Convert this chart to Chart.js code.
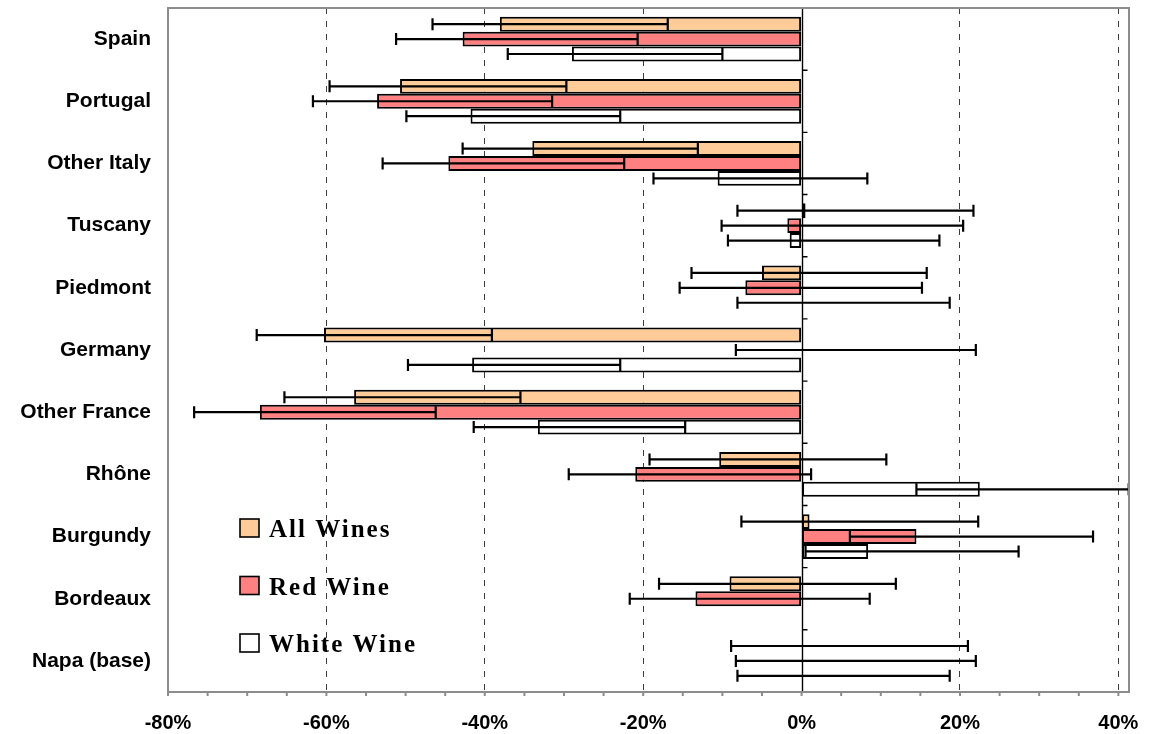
<!DOCTYPE html>
<html>
<head>
<meta charset="utf-8">
<title>Wine price differences vs Napa</title>
<script src="https://cdn.jsdelivr.net/npm/chart.js@4.4.1/dist/chart.umd.min.js"></script>
<style>
  html, body { margin: 0; padding: 0; background: #ffffff; }
  #wrap { width: 1149px; height: 734px; }
</style>
</head>
<body>
<div id="wrap"><canvas id="chart" width="1149" height="734"></canvas></div>
<script>
// Regions, top to bottom
const regions = ['Spain', 'Portugal', 'Other Italy', 'Tuscany', 'Piedmont', 'Germany',
  'Other France', 'Rhône', 'Burgundy', 'Bordeaux', 'Napa (base)'];

// Percentage difference from Napa, with confidence interval bounds
const allWines = [-38.1, -50.7, -34.0, 0.5, -5.0, -60.3, -56.5, -10.4, 1.0, -9.1, 0];
const allLow   = [-46.6, -59.6, -42.8, -8.1, -13.9, -68.8, -65.3, -19.2, -7.6, -18.0, -8.9];
const allHigh  = [-16.9, -29.7, -13.1, 21.7, 15.8, -39.1, -35.5, 10.7, 22.3, 11.9, 21.0];

const redWine = [-42.8, -53.6, -44.6, -1.8, -7.1, 0, -68.4, -21.0, 14.5, -13.4, 0];
const redLow  = [-51.2, -61.7, -52.9, -10.1, -15.4, -8.3, -76.7, -29.4, 6.1, -21.7, -8.3];
const redHigh = [-20.7, -31.5, -22.4, 20.4, 15.2, 22.0, -46.2, 1.2, 36.8, 8.6, 22.0];

const whiteWine = [-29.0, -41.8, -10.6, -1.5, 0, -41.6, -33.3, 22.5, 8.4, 0, 0];
const whiteLow  = [-37.1, -49.9, -18.7, -9.3, -8.1, -49.7, -41.4, 14.5, 0.5, null, -8.1];
const whiteHigh = [-10.0, -22.9, 8.3, 17.4, 18.7, -22.9, -14.7, 41.3, 27.4, null, 18.7];

// Axis range and tick labels
const xMin = -80;
const xMax = 41.34;
const xTickValues = [-80, -60, -40, -20, 0, 20, 40];
const seriesNames = ['All Wines', 'Red Wine', 'White Wine'];
const seriesColors = ['#FFCC99', '#FF8080', '#FFFFFF'];

const FRAME = '#8c8c8c';

// Confidence interval whiskers for every bar
const errorBars = {
  id: 'errorBars',
  afterDatasetsDraw(chart) {
    const ctx = chart.ctx;
    const xs = chart.scales.x;
    ctx.save();
    ctx.strokeStyle = '#000';
    ctx.lineWidth = 2.2;
    chart.data.datasets.forEach((ds, di) => {
      const meta = chart.getDatasetMeta(di);
      meta.data.forEach((bar, i) => {
        const lo = ds.errLow[i], hi = ds.errHigh[i];
        if (lo == null || hi == null) return;
        const x1 = xs.getPixelForValue(lo);
        const x2 = xs.getPixelForValue(hi);
        const y = bar.y;
        const cap = 6;
        ctx.beginPath();
        ctx.moveTo(x1, y); ctx.lineTo(x2, y);
        ctx.moveTo(x1, y - cap); ctx.lineTo(x1, y + cap);
        ctx.moveTo(x2, y - cap); ctx.lineTo(x2, y + cap);
        ctx.stroke();
      });
    });
    ctx.restore();
  }
};

// Zero line acting as the category axis, with boundary ticks
const zeroAxis = {
  id: 'zeroAxis',
  beforeDatasetsDraw(chart) {
    const ctx = chart.ctx;
    const a = chart.chartArea;
    const x0 = Math.round(chart.scales.x.getPixelForValue(0)) + 0.5;
    ctx.save();
    ctx.strokeStyle = '#000';
    ctx.lineWidth = 1.4;
    ctx.beginPath();
    ctx.moveTo(x0, a.top); ctx.lineTo(x0, a.bottom);
    const n = chart.data.labels.length;
    const step = (a.bottom - a.top) / n;
    for (let k = 0; k <= n; k++) {
      const y = a.top + k * step;
      ctx.moveTo(x0, y); ctx.lineTo(x0 + 5, y);
    }
    ctx.stroke();
    ctx.restore();
  }
};

// Plot frame, minor ticks along the value axis and the legend
const frameAndLegend = {
  id: 'frameAndLegend',
  afterDraw(chart) {
    const ctx = chart.ctx;
    const a = chart.chartArea;
    const xs = chart.scales.x;
    ctx.save();
    ctx.strokeStyle = FRAME;
    ctx.lineWidth = 2;
    ctx.strokeRect(a.left, a.top, a.right - a.left, a.bottom - a.top);
    ctx.beginPath();
    for (let v = xMin; v <= xMax; v += 5) {
      const x = xs.getPixelForValue(v);
      ctx.moveTo(x, a.bottom); ctx.lineTo(x, a.bottom + 4);
    }
    ctx.stroke();

    // legend
    const lx = a.left + 72;
    const ly = a.top + 511;
    const rowGap = 57.5;
    ctx.font = 'bold 25px "Liberation Serif", "Times New Roman", serif';
    ctx.textBaseline = 'alphabetic';
    ctx.textAlign = 'left';
    if ('letterSpacing' in ctx) ctx.letterSpacing = '2px';
    seriesNames.forEach((name, i) => {
      const y = ly + i * rowGap;
      ctx.fillStyle = seriesColors[i];
      ctx.fillRect(lx, y, 19, 18);
      ctx.strokeStyle = '#000';
      ctx.lineWidth = 1.6;
      ctx.strokeRect(lx, y, 19, 18);
      ctx.fillStyle = '#000';
      ctx.fillText(name, lx + 29, y + 18);
    });
    ctx.restore();
  }
};

const series = [
  { data: allWines, low: allLow, high: allHigh },
  { data: redWine, low: redLow, high: redHigh },
  { data: whiteWine, low: whiteLow, high: whiteHigh }
];

function noEdgePadding(scale) {
  scale.paddingTop = 0;
  scale.paddingBottom = 0;
  scale.paddingLeft = 0;
  scale.paddingRight = 0;
}

new Chart(document.getElementById('chart'), {
  type: 'bar',
  data: {
    labels: regions,
    datasets: series.map((s, i) => ({
      label: seriesNames[i],
      data: s.data,
      errLow: s.low,
      errHigh: s.high,
      backgroundColor: seriesColors[i],
      borderColor: '#000000',
      borderWidth: 2,
      borderSkipped: false,
      categoryPercentage: 0.72,
      barPercentage: 1.0
    }))
  },
  options: {
    indexAxis: 'y',
    responsive: false,
    animation: false,
    events: [],
    layout: { padding: { top: 8, right: 20, left: 0, bottom: 0 } },
    plugins: {
      legend: { display: false },
      tooltip: { enabled: false }
    },
    scales: {
      x: {
        type: 'linear',
        min: xMin,
        max: xMax,
        afterBuildTicks(scale) {
          scale.ticks = xTickValues.map(v => ({ value: v }));
        },
        afterFit(scale) { scale.height = 42; noEdgePadding(scale); },
        grid: {
          drawTicks: false,
          lineWidth: 1,
          color: (c) => (c.tick && (c.tick.value === 0 || c.tick.value === xMin)) ? 'rgba(0,0,0,0)' : '#3c3c3c'
        },
        border: { display: false, dash: [6, 7] },
        ticks: {
          padding: 19,
          color: '#000',
          maxRotation: 0,
          font: { family: '"Liberation Sans", Arial, sans-serif', size: 20, weight: 'bold' },
          callback: (v) => v + '%'
        }
      },
      y: {
        afterFit(scale) { scale.width = 168; noEdgePadding(scale); },
        grid: { display: false, drawTicks: false },
        border: { display: false },
        ticks: {
          padding: 17,
          color: '#000',
          font: { family: '"Liberation Sans", Arial, sans-serif', size: 21, weight: 'bold' }
        }
      }
    }
  },
  plugins: [zeroAxis, errorBars, frameAndLegend]
});
</script>
</body>
</html>
